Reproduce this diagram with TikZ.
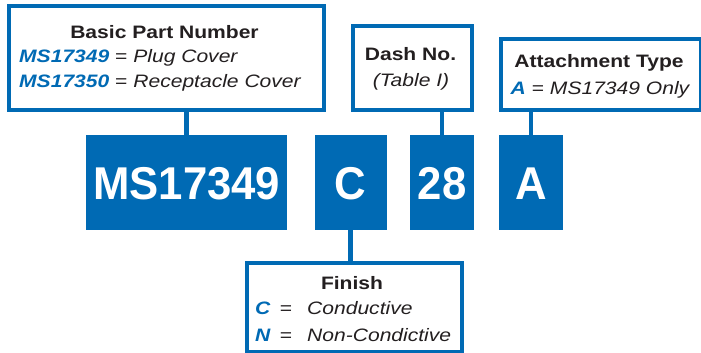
\documentclass[tikz,border=0pt]{standalone}
\usepackage{fontspec}
\setmainfont{Liberation Sans}
\newfontfamily\lblfont[FakeStretch=1.17]{Liberation Sans}
\newfontfamily\blkfont[FakeStretch=0.95]{Liberation Sans}
\definecolor{pblue}{RGB}{0,106,180}
\definecolor{ink}{RGB}{35,31,32}
\begin{document}
\begin{tikzpicture}[x=1pt,y=-1pt,
  frame/.style={draw=pblue,line width=4pt,fill=white,inner sep=0pt,anchor=north west},
  block/.style={fill=pblue,inner sep=0pt,anchor=north west,minimum height=95pt,text=white,
    font=\blkfont\bfseries\fontsize{46}{46}\selectfont,text height=33pt,text depth=0pt},
  conn/.style={draw=pblue,line width=4.5pt},
  lbl/.style={inner sep=0pt,text=ink,font=\lblfont\fontsize{18}{20}\selectfont},
  keyl/.style={lbl,text=pblue,font=\lblfont\fontsize{18}{20}\selectfont\bfseries\itshape}
]
\useasboundingbox (0,0) rectangle (701,353);

% frames
\node[frame,minimum width=315pt,minimum height=104pt] (bpn) at (7,4) {};
\node[frame,minimum width=119pt,minimum height=84pt] (dash) at (351,24) {};
\node[frame,minimum width=200pt,minimum height=71pt] (att) at (499,37) {};
\node[frame,minimum width=215pt,minimum height=89pt] (fin) at (245,261) {};

% blocks
\node[block,minimum width=201pt] (ms) at (86,135) {MS17349};
\node[block,minimum width=72pt] (c) at (314.5,135) {C};
\node[block,minimum width=64pt] (n28) at (410,135) {28};
\node[block,minimum width=64pt] (a) at (499,135) {A};

% connectors
\draw[conn] (ms.north) -- (ms.north |- bpn.south);
\draw[conn] (n28.north) -- (n28.north |- dash.south);
\draw[conn] (a.north) -- (a.north |- att.south);
\draw[conn] (c.south) -- (c.south |- fin.north);

% basic part number
\node[lbl,anchor=base] (t1) at (164.5,38) {\bfseries Basic Part Number};
\node[lbl,anchor=base west] (t2) at (19,62.5) {\textcolor{pblue}{\bfseries\itshape MS17349} = \itshape Plug Cover};
\node[lbl,anchor=base west] (t3) at (19,88) {\textcolor{pblue}{\bfseries\itshape MS17350} = \itshape Receptacle Cover};

% dash no
\node[lbl,anchor=base] (d1) at (410.5,61) {\bfseries Dash No.};
\node[lbl,anchor=base] (d2) at (411,86) {\itshape (Table I)};

% attachment type
\node[lbl,anchor=base] (a1) at (599,67) {\bfseries Attachment Type};
\node[lbl,anchor=base] (a2) at (600,94) {\textcolor{pblue}{\bfseries\itshape A} = \itshape MS17349 Only};

% finish
\node[lbl,anchor=base] (f1) at (352,289) {\bfseries Finish};
\node[keyl,anchor=base west] (f2) at (255,314) {C};
\node[lbl,anchor=base] (f3) at (286,314) {=};
\node[lbl,anchor=base west] (f4) at (307,314) {\itshape Conductive};
\node[keyl,anchor=base west] (f5) at (255,341) {N};
\node[lbl,anchor=base] (f6) at (286,341) {=};
\node[lbl,anchor=base west] (f7) at (307,341) {\itshape Non-Condictive};
\end{tikzpicture}
\end{document}
